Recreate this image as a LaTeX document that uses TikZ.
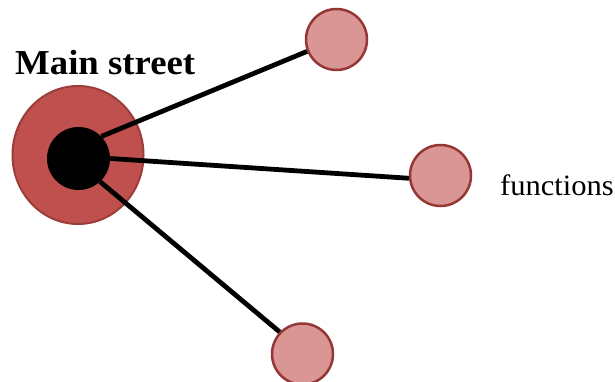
\documentclass[tikz,border=0pt]{standalone}
\usepackage{fontspec}
\setmainfont{Liberation Serif}
\usetikzlibrary{shapes.geometric}
\definecolor{bigred}{HTML}{C0504D}
\definecolor{bigedge}{HTML}{9B3D3A}
\definecolor{smallfill}{HTML}{D99694}
\definecolor{smalledge}{HTML}{953735}
\begin{document}
\begin{tikzpicture}[x=1pt,y=-1pt,
  bignode/.style={ellipse,draw=bigedge,fill=bigred,line width=2pt,inner sep=0pt,minimum width=131pt,minimum height=138pt},
  corenode/.style={circle,fill=black,inner sep=0pt,minimum size=63pt},
  leaf/.style={circle,draw=smalledge,fill=smallfill,line width=2.5pt,inner sep=0pt,minimum size=61pt},
  link/.style={line width=4.8pt,black},
  lbl/.style={inner sep=0pt,anchor=base west}]
\useasboundingbox (0,0) rectangle (615,382);
\node[bignode] (big) at (78,155) {};
\node[corenode] (core) at (78.5,158.5) {};
\node[leaf] (top) at (336.5,39.5) {};
\node[leaf] (right) at (440.5,175.5) {};
\node[leaf] (bottom) at (302.5,354) {};
\draw[link] (core.44) -- (top.202);
\draw[link] (core.0) -- (right.185);
\draw[link] (core.-47) -- (bottom.136);
\node[lbl,xscale=1.05,font=\bfseries\fontsize{35}{40}\selectfont] (title) at (15,75) {Main street};
\node[lbl,xscale=1.035,font=\fontsize{29.5}{34}\selectfont] (func) at (500,195) {functions};
\end{tikzpicture}
\end{document}
